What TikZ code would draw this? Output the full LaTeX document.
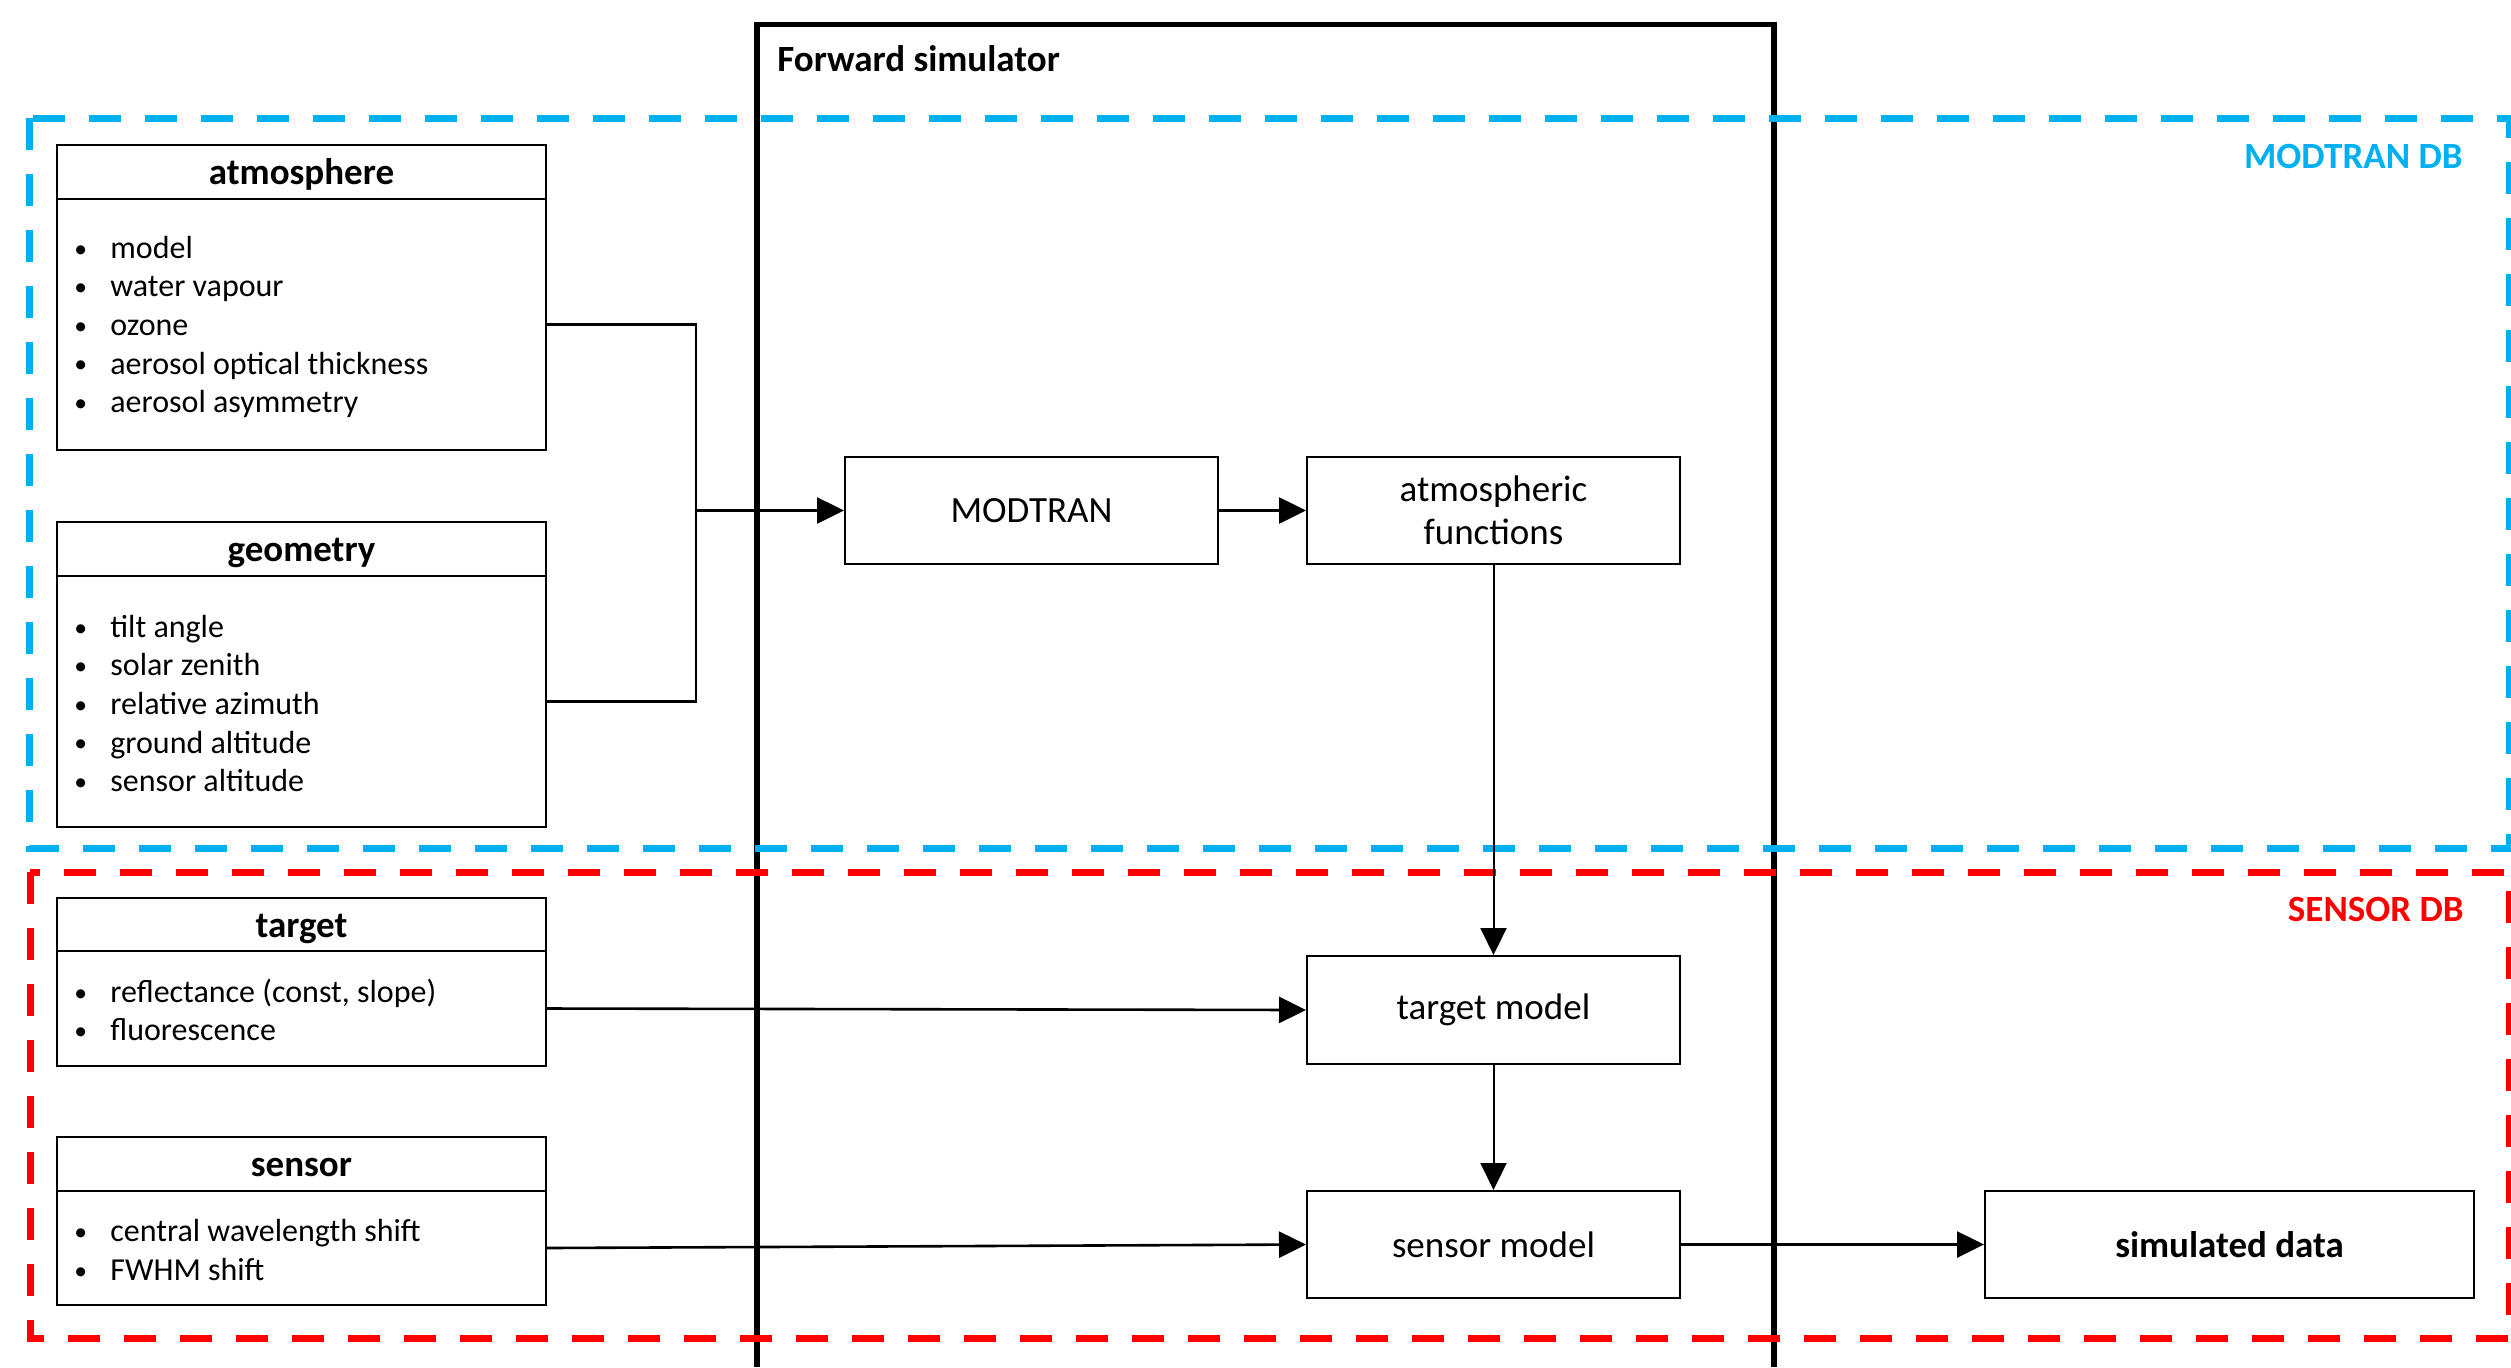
\documentclass[tikz,border=0pt]{standalone}
\usepackage{fontspec}
\setmainfont{Carlito}
\usetikzlibrary{arrows.meta}
\definecolor{dbblue}{HTML}{00B0F0}
\definecolor{dbred}{HTML}{FF0000}
\newcommand{\bul}{\makebox[18pt][l]{\raisebox{0.6pt}{\scalebox{0.8}{•}}}}
\begin{document}
\begin{tikzpicture}[x=0.5pt,y=-0.5pt,
  hdr/.style={draw, line width=1pt, minimum width=244.5pt, minimum height=27pt, inner sep=0pt,
    text height=15.5pt, text depth=3pt, font=\fontsize{18.5}{22}\selectfont\bfseries},
  bodybox/.style={draw, line width=1pt, minimum width=244.5pt, inner sep=0pt},
  blist/.style={anchor=west, inner sep=0pt, align=left, font=\fontsize{16}{19.3}\selectfont},
  procbox/.style={draw, line width=1pt, minimum width=186.5pt, minimum height=53.5pt, inner sep=0pt,
    align=center, font=\fontsize{18.5}{21.5}\selectfont},
  conn/.style={line width=1.2pt},
  arr/.style={line width=1.3pt, -{Triangle[length=13.5pt,width=13pt]}},
  dbline/.style={line width=3.5pt, dash pattern=on 16pt off 12pt},
  dblabel/.style={anchor=east, inner sep=0pt, font=\fontsize{18.5}{22}\selectfont\bfseries}
]
\useasboundingbox (0,0) rectangle (2511,1367);
\fill[white] (0,0) rectangle (2511,1367);

% forward simulator frame (open at the bottom)
\coordinate (fsbl) at (757,1367);
\coordinate (fstl) at (757,24.5);
\coordinate (fstr) at (1774,24.5);
\coordinate (fsbr) at (1774,1367);
\draw[line width=2.6pt] (fsbl) -- (fstl) -- (fstr) -- (fsbr);
\node[anchor=west, inner sep=0pt, font=\fontsize{18.5}{22}\selectfont\bfseries] (fslabel) at (777,59) {Forward simulator};

% database regions
\draw[dbline, dbblue] (29,118) rectangle (2509,848);
\draw[dbline, dbred] (30,872) rectangle (2509,1338);
\node[dblabel, text=dbblue] (mdb) at (2463,156) {MODTRAN DB};
\node[dblabel, text=dbred] (sdb) at (2464,909) {SENSOR DB};

% parameter boxes
\node[hdr] (atmh) at (301.5,172) {atmosphere};
\node[bodybox, minimum height=125.5pt] (atmb) at (301.5,324.5) {};
\node[blist] (atml) at (74,327) {\bul model\\\bul water vapour\\\bul ozone\\\bul aerosol optical thickness\\\bul aerosol asymmetry};

\node[hdr] (geoh) at (301.5,549) {geometry};
\node[bodybox, minimum height=125.5pt] (geob) at (301.5,701.5) {};
\node[blist] (geol) at (74,703.5) {\bul tilt angle\\\bul solar zenith\\\bul relative azimuth\\\bul ground altitude\\\bul sensor altitude};

\node[hdr, minimum height=26.5pt] (tgth) at (301.5,924.5) {target};
\node[bodybox, minimum height=57.5pt] (tgtb) at (301.5,1008.5) {};
\node[blist] (tgtl) at (74,1010) {\bul reflectance (const, slope)\\\bul fluorescence};

\node[hdr] (senh) at (301.5,1164) {sensor};
\node[bodybox, minimum height=57pt] (senb) at (301.5,1248) {};
\node[blist] (senl) at (74,1250) {\bul central wavelength shift\\\bul FWHM shift};

% processing boxes
\node[procbox] (modtran) at (1031.5,510.5) {MODTRAN};
\node[procbox] (atmf) at (1493.5,510.5) {atmospheric\\functions};
\node[procbox, minimum height=54pt] (tmodel) at (1493.5,1010) {target model};
\node[procbox] (smodel) at (1493.5,1244.5) {sensor model};
\node[procbox, minimum width=244.5pt, font=\fontsize{18.5}{21.5}\selectfont\bfseries] (simdata) at (2229.5,1244.5) {simulated data};

% connectors
\coordinate (join) at (696,510.5);
\draw[conn] (atmb.east) -| (join);
\draw[conn] (geob.east) -| (join);
\draw[arr] (join) -- (modtran.west);
\draw[arr] (modtran.east) -- (atmf.west);
\draw[arr, line width=1pt] (atmf.south) -- (tmodel.north);
\draw[arr] (tgtb.east) -- (tmodel.west);
\draw[arr, line width=1pt] (tmodel.south) -- (smodel.north);
\draw[arr] (senb.east) -- (smodel.west);
\draw[arr] (smodel.east) -- (simdata.west);
\end{tikzpicture}
\end{document}
